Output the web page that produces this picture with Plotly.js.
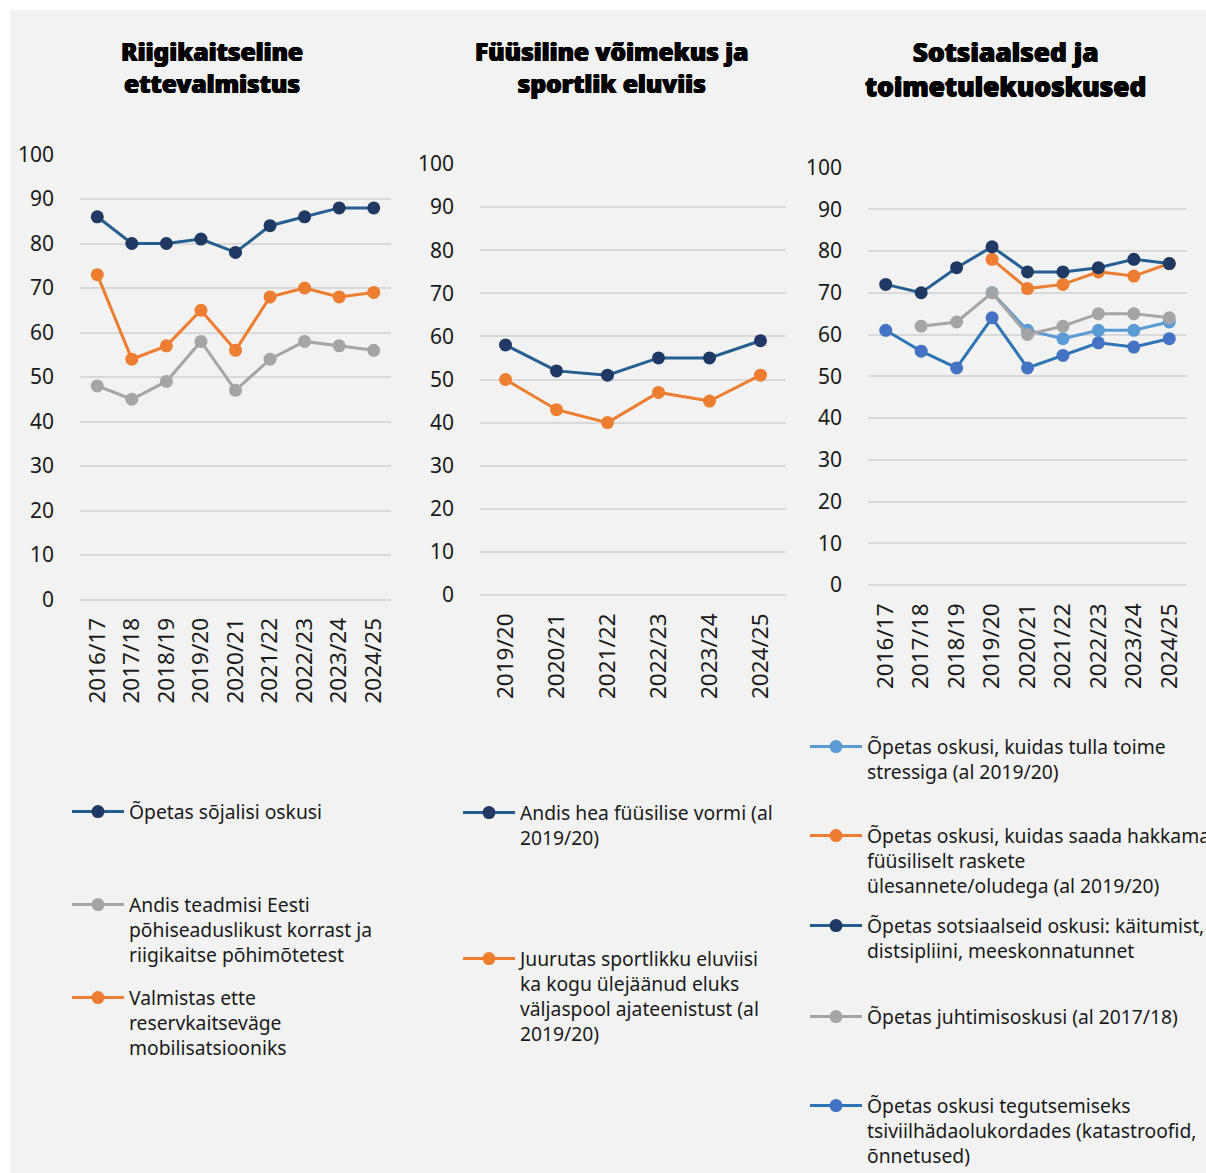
<!DOCTYPE html>
<html>
<head>
<meta charset="utf-8">
<script src="https://cdn.plot.ly/plotly-3.0.1.min.js"></script>
<style>html,body{margin:0;padding:0;background:#fff;}#chart{width:1206px;height:1173px;}</style>
</head>
<body>
<div id="chart"></div>
<script>
// ---- Data ----
const years9 = ['2016/17','2017/18','2018/19','2019/20','2020/21','2021/22','2022/23','2023/24','2024/25'];
const years6 = ['2019/20','2020/21','2021/22','2022/23','2023/24','2024/25'];

const titles = ['Riigikaitseline<br>ettevalmistus', 'Füüsiline võimekus ja<br>sportlik eluviis', 'Sotsiaalsed ja<br>toimetulekuoskused'];

// Panel 1
const p1Military     = [86, 80, 80, 81, 78, 84, 86, 88, 88];
const p1Constitution = [48, 45, 49, 58, 47, 54, 58, 57, 56];
const p1Reserve      = [73, 54, 57, 65, 56, 68, 70, 68, 69];
const p1Names = ['Õpetas sõjalisi oskusi',
                 'Andis teadmisi Eesti<br>põhiseaduslikust korrast ja<br>riigikaitse põhimõtetest',
                 'Valmistas ette<br>reservkaitseväge<br>mobilisatsiooniks'];

// Panel 2
const p2Fitness = [58, 52, 51, 55, 55, 59];
const p2Sport   = [50, 43, 40, 47, 45, 51];
const p2Names = ['Andis hea füüsilise vormi (al<br>2019/20)',
                 'Juurutas sportlikku eluviisi<br>ka kogu ülejäänud eluks<br>väljaspool ajateenistust (al<br>2019/20)'];

// Panel 3
const p3Stress     = [null, null, null, 70, 61, 59, 61, 61, 63];
const p3Physical   = [null, null, null, 78, 71, 72, 75, 74, 77];
const p3Social     = [72, 70, 76, 81, 75, 75, 76, 78, 77];
const p3Leadership = [null, 62, 63, 70, 60, 62, 65, 65, 64];
const p3Civil      = [61, 56, 52, 64, 52, 55, 58, 57, 59];
const p3Names = ['Õpetas oskusi, kuidas tulla toime<br>stressiga (al 2019/20)',
                 'Õpetas oskusi, kuidas saada hakkama<br>füüsiliselt raskete<br>ülesannete/oludega (al 2019/20)',
                 'Õpetas sotsiaalseid oskusi: käitumist,<br>distsipliini, meeskonnatunnet',
                 'Õpetas juhtimisoskusi (al 2017/18)',
                 'Õpetas oskusi tegutsemiseks<br>tsiviilhädaolukordades (katastroofid,<br>õnnetused)'];

// ---- Styling ----
const W = 1206, H = 1173;
const px = v => v / W;
const py = v => (H - v) / H;
const FONT = '"Noto Sans", "Open Sans", sans-serif';
const HEAVY = '0.6px 0 0 #000, -0.6px 0 0 #000, 0 0.4px 0 #000';
const NAVY = {line: '#255E91', marker: '#1F3864'};
const ORANGE = {line: '#ED7D31', marker: '#ED7D31'};
const GRAY = {line: '#A5A5A5', marker: '#A5A5A5'};
const LBLUE = {line: '#5B9BD5', marker: '#5B9BD5'};
const BLUE = {line: '#2E75B6', marker: '#4472C4'};

function tr(x, y, name, col, xa, ya, leg) {
  return {
    type: 'scatter', mode: 'lines+markers', x: x, y: y, name: name,
    xaxis: xa, yaxis: ya, legend: leg,
    line: {color: col.line, width: 3},
    marker: {color: col.marker, size: 13},
    hoverinfo: 'x+y+name'
  };
}

const data = [
  tr(years9, p1Military, p1Names[0], NAVY, 'x', 'y', 'legend'),
  tr(years9, p1Constitution, p1Names[1], GRAY, 'x', 'y', 'legend2'),
  tr(years9, p1Reserve, p1Names[2], ORANGE, 'x', 'y', 'legend3'),
  tr(years6, p2Fitness, p2Names[0], NAVY, 'x2', 'y2', 'legend4'),
  tr(years6, p2Sport, p2Names[1], ORANGE, 'x2', 'y2', 'legend5'),
  tr(years9, p3Stress, p3Names[0], LBLUE, 'x3', 'y3', 'legend6'),
  tr(years9, p3Physical, p3Names[1], ORANGE, 'x3', 'y3', 'legend7'),
  tr(years9, p3Social, p3Names[2], NAVY, 'x3', 'y3', 'legend8'),
  tr(years9, p3Leadership, p3Names[3], GRAY, 'x3', 'y3', 'legend9'),
  tr(years9, p3Civil, p3Names[4], BLUE, 'x3', 'y3', 'legend10')
];

function xax(l, r, n, anchor) {
  return {
    domain: [px(l), px(r)], anchor: anchor, type: 'category',
    range: [-0.5, n - 0.5], tickangle: -90, showgrid: false, showline: false,
    zeroline: false, ticks: '', ticklabelstandoff: 13,
    tickfont: {family: FONT, size: 22.5, color: '#1a1a1a'}, fixedrange: true
  };
}
function yax(top, bottom, anchor) {
  return {
    domain: [py(bottom), py(top)], anchor: anchor, range: [0, 100], dtick: 10,
    showgrid: true, gridcolor: '#d9d9d9', gridwidth: 1.5,
    zeroline: true, zerolinecolor: '#d9d9d9', zerolinewidth: 1.5,
    showline: false, ticks: '', ticklabelstandoff: 25,
    tickfont: {family: FONT, size: 21, color: '#1a1a1a'}, fixedrange: true
  };
}

function leg(xLine, yFirst) {
  return {
    x: px(xLine - 5), y: py(yFirst - 19.5), xanchor: 'left', yanchor: 'top',
    xref: 'paper', yref: 'paper',
    bgcolor: 'rgba(0,0,0,0)', borderwidth: 0, itemwidth: 52, valign: 'top',
    font: {family: FONT, size: 19.3, color: '#1a1a1a'}, itemclick: false, itemdoubleclick: false
  };
}

const layout = {
  width: W, height: H,
  margin: {l: 0, r: 0, t: 0, b: 0, autoexpand: false},
  paper_bgcolor: '#ffffff', plot_bgcolor: 'rgba(0,0,0,0)',
  showlegend: true,
  xaxis: xax(80, 391, 9, 'y'),
  yaxis: yax(154.5, 599.5, 'x'),
  xaxis2: xax(480, 786, 6, 'y2'),
  yaxis2: yax(164, 595, 'x2'),
  xaxis3: xax(868, 1187, 9, 'y3'),
  yaxis3: yax(167.5, 585, 'x3'),
  legend: leg(72, 812),
  legend2: leg(72, 905),
  legend3: leg(72, 998),
  legend4: leg(463, 813),
  legend5: leg(463, 959),
  legend6: leg(810, 747),
  legend7: leg(810, 836),
  legend8: leg(810, 926),
  legend9: leg(810, 1017),
  legend10: leg(810, 1106),
  shapes: [{
    type: 'rect', xref: 'paper', yref: 'paper', x0: px(10), x1: 1, y0: 0, y1: py(10),
    fillcolor: '#f2f2f2', line: {width: 0}, layer: 'below'
  }],
  annotations: [
    {text: titles[0], x: px(212), y: py(67.5), xref: 'paper', yref: 'paper', showarrow: false,
     xanchor: 'center', yanchor: 'middle', font: {family: FONT, size: 24.5, weight: 900, color: '#000', shadow: HEAVY}},
    {text: titles[1], x: px(611), y: py(67.5), xref: 'paper', yref: 'paper', showarrow: false,
     xanchor: 'center', yanchor: 'middle', font: {family: FONT, size: 24.5, weight: 900, color: '#000', shadow: HEAVY}},
    {text: titles[2], x: px(1005), y: py(69), xref: 'paper', yref: 'paper', showarrow: false,
     xanchor: 'center', yanchor: 'middle', font: {family: FONT, size: 26.3, weight: 900, color: '#000', shadow: HEAVY}}
  ]
};

Plotly.newPlot('chart', data, layout, {displayModeBar: false});
</script>
</body>
</html>
